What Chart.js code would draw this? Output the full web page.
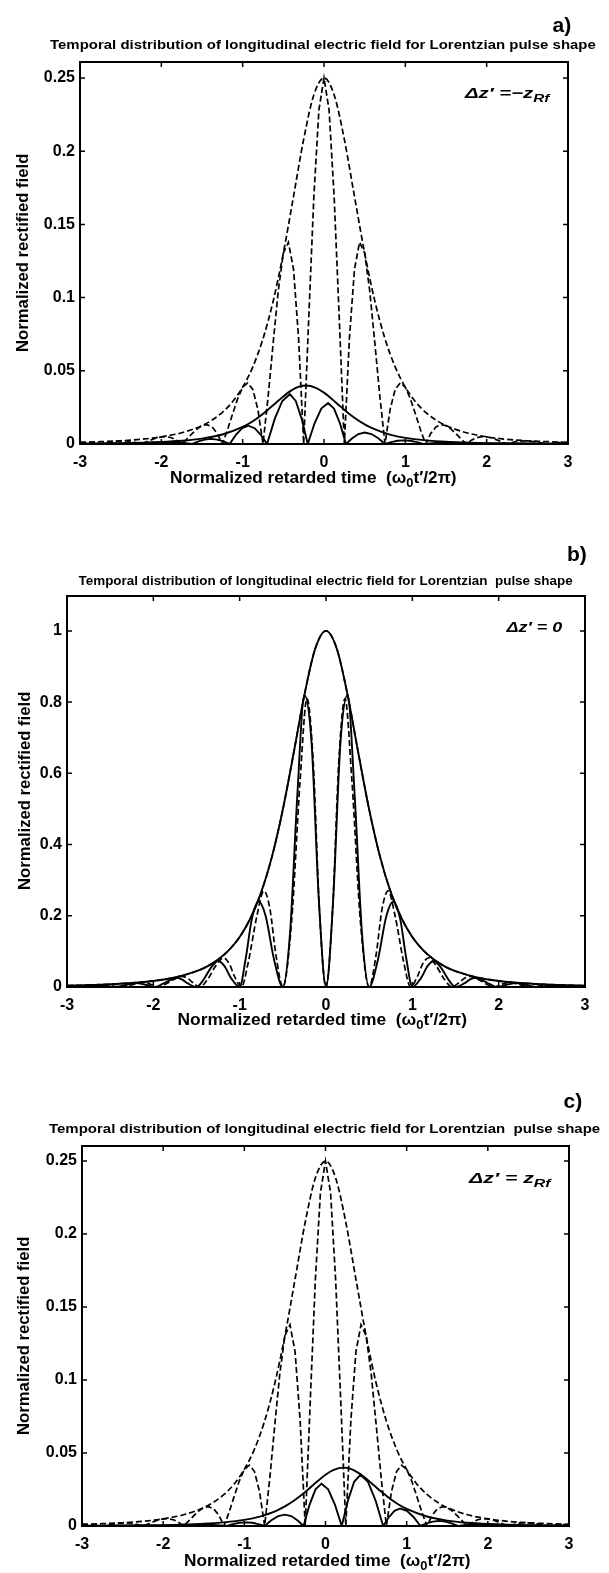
<!DOCTYPE html>
<html>
<head>
<meta charset="utf-8">
<script src="https://cdn.jsdelivr.net/npm/chart.js@4.4.0/dist/chart.umd.min.js"></script>
<style>
body { margin:0; width:609px; height:1573px; background:#fff; position:relative; overflow:hidden; font-family:"Liberation Sans", Arial, sans-serif; }
.panel { position:absolute; left:0; }
.txt { position:absolute; white-space:nowrap; font-weight:bold; color:#000; line-height:1.1; }
.txt sub { font-size:75%; vertical-align:-0.35em; line-height:0; }
</style>
</head>
<body>
<div class="panel" style="top:0px"><canvas id="chartA" width="609" height="500"></canvas></div>
<div class="panel" style="top:520px"><canvas id="chartB" width="609" height="510"></canvas></div>
<div class="panel" style="top:1070px"><canvas id="chartC" width="609" height="503"></canvas></div>
<script>
// ticks
const xTicks = [-3, -2, -1, 0, 1, 2, 3]
const xTickLabels = ['-3', '-2', '-1', '0', '1', '2', '3']
const yTicksAC = [0, 0.05, 0.1, 0.15, 0.2, 0.25]
const yTickLabelsAC = ['0', '0.05', '0.1', '0.15', '0.2', '0.25']
const yTicksB = [0, 0.2, 0.4, 0.6, 0.8, 1]
const yTickLabelsB = ['0', '0.2', '0.4', '0.6', '0.8', '1']

// dashed curves of a) and c) (same in both)
const dashT = [-3, -2.875, -2.75, -2.625, -2.5, -2.375, -2.25, -2.1875, -2.125, -2.0625,
  -2, -1.9375, -1.875, -1.8125, -1.75, -1.6875, -1.625, -1.5625, -1.5, -1.4375,
  -1.375, -1.3125, -1.25, -1.1875, -1.125, -1.0625, -1, -0.9375, -0.875, -0.8125,
  -0.75, -0.6875, -0.625, -0.5625, -0.5, -0.4375, -0.375, -0.3125, -0.25, -0.1875,
  -0.125, -0.0625, 0, 0.0625, 0.125, 0.1875, 0.25, 0.3125, 0.375, 0.4375,
  0.5, 0.5625, 0.625, 0.6875, 0.75, 0.8125, 0.875, 0.9375, 1, 1.0625,
  1.125, 1.1875, 1.25, 1.3125, 1.375, 1.4375, 1.5, 1.5625, 1.625, 1.6875,
  1.75, 1.8125, 1.875, 1.9375, 2, 2.0625, 2.125, 2.1875, 2.25, 2.375,
  2.5, 2.625, 2.75, 2.875, 3]
const dashOsc = [0.0011, 0.0009, 0, 0.0013, 0.0022, 0.0019, 0, 0.0014, 0.0028, 0.0041,
  0.0049, 0.005, 0.0043, 0.0026, 0, 0.0033, 0.0069, 0.0102, 0.0126, 0.0132,
  0.0116, 0.0072, 0, 0.0095, 0.0203, 0.0308, 0.0388, 0.0417, 0.0373, 0.0235,
  0, 0.0321, 0.069, 0.1045, 0.1304, 0.1378, 0.1195, 0.0723, 0, 0.0861,
  0.1686, 0.2282, 0.25, 0.2282, 0.1686, 0.0861, 0, 0.0723, 0.1195, 0.1378,
  0.1304, 0.1045, 0.069, 0.0321, 0, 0.0235, 0.0373, 0.0417, 0.0388, 0.0308,
  0.0203, 0.0095, 0, 0.0072, 0.0116, 0.0132, 0.0126, 0.0102, 0.0069, 0.0033,
  0, 0.0026, 0.0043, 0.005, 0.0049, 0.0041, 0.0028, 0.0014, 0, 0.0019,
  0.0022, 0.0013, 0, 0.0009, 0.0011]

const envT = [-3, -2.75, -2.5, -2.25, -2, -1.75, -1.5, -1.375, -1.25, -1.125, -1, -0.875, -0.75,
  -0.625, -0.5, -0.375, -0.25, -0.125, 0, 0.125, 0.25, 0.375, 0.5, 0.625, 0.75, 0.875,
  1, 1.125, 1.25, 1.375, 1.5, 1.75, 2, 2.25, 2.5, 2.75, 3]
const dashEnv = [0.0011, 0.0016, 0.0022, 0.0032, 0.0049, 0.0077, 0.0126, 0.0164, 0.0216, 0.0288,
  0.0388, 0.0527, 0.0719, 0.0976, 0.1304, 0.169, 0.2081, 0.2384, 0.25, 0.2384, 0.2081, 0.169,
  0.1304, 0.0976, 0.0719, 0.0527, 0.0388, 0.0288, 0.0216, 0.0164, 0.0126, 0.0077, 0.0049,
  0.0032, 0.0022, 0.0016, 0.0011]

// a) solid curves
const aEnvT = [-3, -2.5, -2, -1.75, -1.5, -1.25, -1, -0.9, -0.8, -0.7, -0.6, -0.5, -0.4, -0.3,
  -0.22, -0.1, 0, 0.1, 0.2, 0.3, 0.4, 0.5, 0.6, 0.7, 0.8, 1, 1.25, 1.5, 1.75, 2, 2.5, 3]
const aSolidEnv = [0.0003, 0.0006, 0.0014, 0.0022, 0.0037, 0.0065, 0.0117, 0.0147, 0.0185, 0.0229,
  0.0277, 0.0325, 0.0366, 0.0393, 0.04, 0.0384, 0.0351, 0.0306, 0.0257, 0.021, 0.0169, 0.0134,
  0.0106, 0.0084, 0.0066, 0.0042, 0.0025, 0.0015, 0.001, 0.0006, 0.0003, 0.0002]
const aOscT = [-3, -2.5, -2.12, -2.033, -1.947, -1.86, -1.78, -1.7, -1.62, -1.543, -1.467, -1.39,
  -1.313, -1.237, -1.16, -1.083, -1.007, -0.93, -0.853, -0.777, -0.7, -0.607, -0.513, -0.42,
  -0.347, -0.273, -0.2, -0.117, -0.033, 0.05, 0.123, 0.197, 0.27, 0.347, 0.423, 0.5, 0.583,
  0.667, 0.75, 0.827, 0.903, 0.98, 1.06, 1.14, 1.22, 1.3, 1.38, 1.46, 1.54, 1.62, 1.7, 2.2, 3]
const aSolidOsc = [0, 0.0003, 0, 0.0006, 0.001, 0.0012, 0.001, 0.0006, 0, 0.0018, 0.003, 0.0035,
  0.003, 0.0018, 0, 0.0063, 0.0108, 0.0125, 0.0108, 0.0063, 0, 0.017, 0.0294, 0.034,
  0.0294, 0.017, 0, 0.014, 0.0242, 0.028, 0.0242, 0.014, 0, 0.0039, 0.0068, 0.0078, 0.0068,
  0.0039, 0, 0.0013, 0.0022, 0.0025, 0.0022, 0.0013, 0, 0.00045, 0.0008, 0.0009, 0.0008, 0.00045, 0, 0.0003, 0]

// b) curves
const bSolidEnv = [0.0039, 0.0054, 0.0077, 0.0112, 0.017, 0.0268, 0.0443, 0.058, 0.077, 0.1034,
  0.1406, 0.193, 0.2664, 0.3668, 0.4983, 0.6563, 0.8202, 0.9499, 1, 0.9499, 0.8202, 0.6563,
  0.4983, 0.3668, 0.2664, 0.193, 0.1406, 0.1034, 0.077, 0.058, 0.0443, 0.0268, 0.017,
  0.0112, 0.0077, 0.0054, 0.0039]
const bDashEnv = [0.0039, 0.0054, 0.0077, 0.0112, 0.017, 0.0268, 0.0443, 0.058, 0.077, 0.1034,
  0.1406, 0.193, 0.2664, 0.3668, 0.4983, 0.6563, 0.8202, 0.9499, 1, 0.9499, 0.8202, 0.6563,
  0.4983, 0.3668, 0.2664, 0.193, 0.1406, 0.1034, 0.077, 0.058, 0.0443, 0.0268, 0.017,
  0.0112, 0.0077, 0.0054, 0.0039]
const bSolidT = [-3, -2.95, -2.8, -2.7, -2.6, -2.45, -2.3, -2.2, -2.1, -1.98, -1.9, -1.8, -1.72,
  -1.66, -1.6, -1.5, -1.42, -1.33, -1.25, -1.18, -1.1, -1, -0.93, -0.86, -0.78, -0.7, -0.6,
  -0.5, -0.417, -0.333, -0.25, -0.167, -0.083, 0, 0.083, 0.167, 0.25, 0.333, 0.417, 0.5,
  0.6, 0.7, 0.78, 0.86, 0.93, 1, 1.1, 1.18, 1.25, 1.33, 1.42, 1.5, 1.6, 1.66, 1.72, 1.8,
  1.9, 1.98, 2.1, 2.2, 2.3, 2.45, 2.6, 2.7, 2.8, 2.95, 3]
const bSolidOsc = [0.001, 0, 0.004, 0.005, 0.004, 0, 0.007, 0.011, 0.007, 0, 0.008, 0.02, 0.026,
  0.02, 0.01, 0, 0.02, 0.055, 0.073, 0.06, 0.025, 0, 0.08, 0.19, 0.24, 0.2, 0.075,
  0, 0.15, 0.534, 0.82, 0.685, 0.245, 0, 0.245, 0.685, 0.82, 0.534, 0.15, 0,
  0.075, 0.2, 0.24, 0.19, 0.08, 0, 0.025, 0.06, 0.073, 0.055, 0.02, 0, 0.01, 0.02, 0.026, 0.02,
  0.008, 0, 0.007, 0.011, 0.007, 0, 0.004, 0.005, 0.004, 0, 0.001]
const bDashT = [-3, -2.85, -2.7, -2.6, -2.5, -2.38, -2.22, -2.13, -2.04, -1.94, -1.85, -1.75,
  -1.67, -1.6, -1.54, -1.46, -1.37, -1.27, -1.19, -1.12, -1.06, -0.98, -0.9, -0.8, -0.72,
  -0.65, -0.58, -0.5, -0.4, -0.3, -0.22, -0.15, -0.075, 0, 0.075, 0.15, 0.22, 0.3, 0.4,
  0.5, 0.58, 0.65, 0.72, 0.8, 0.9, 0.98, 1.06, 1.12, 1.19, 1.27, 1.37, 1.46, 1.54, 1.6,
  1.67, 1.75, 1.85, 1.94, 2.04, 2.13, 2.22, 2.38, 2.5, 2.6, 2.7, 2.85, 3]
const bDashOsc = [0.002, 0, 0.004, 0.006, 0.004, 0, 0.008, 0.013, 0.008, 0, 0.009, 0.023,
  0.03, 0.024, 0.012, 0, 0.022, 0.062, 0.082, 0.065, 0.03, 0, 0.07, 0.2, 0.27,
  0.22, 0.09, 0, 0.18, 0.58, 0.81, 0.64, 0.21, 0, 0.21, 0.64, 0.81, 0.58, 0.18,
  0, 0.09, 0.22, 0.27, 0.2, 0.07, 0, 0.03, 0.065, 0.082, 0.062, 0.022, 0, 0.012, 0.024,
  0.03, 0.023, 0.009, 0, 0.008, 0.013, 0.008, 0, 0.004, 0.006, 0.004, 0, 0.002]

// c) solid curves
const cEnvT = [-3, -2.5, -2, -1.75, -1.5, -1.25, -1, -0.8, -0.7, -0.6, -0.5, -0.4, -0.3, -0.2,
  -0.1, 0, 0.1, 0.22, 0.3, 0.4, 0.5, 0.6, 0.7, 0.8, 0.9, 1, 1.25, 1.5, 1.75, 2, 2.5, 3]
const cSolidEnv = [0.0002, 0.0003, 0.0006, 0.001, 0.0015, 0.0025, 0.0042, 0.0066, 0.0084, 0.0106,
  0.0134, 0.0169, 0.021, 0.0257, 0.0306, 0.0351, 0.0384, 0.04, 0.0393, 0.0366, 0.0325, 0.0277,
  0.0229, 0.0185, 0.0147, 0.0117, 0.0065, 0.0037, 0.0022, 0.0014, 0.0006, 0.0003]
const cOscT = [-3, -2.2, -1.7, -1.62, -1.54, -1.46, -1.38, -1.3, -1.22, -1.14, -1.06, -0.98,
  -0.903, -0.827, -0.75, -0.667, -0.583, -0.5, -0.423, -0.347, -0.27, -0.197, -0.123, -0.05,
  0.033, 0.117, 0.2, 0.277, 0.353, 0.43, 0.523, 0.617, 0.71, 0.78, 0.85, 0.92, 1.003, 1.087,
  1.17, 1.247, 1.323, 1.4, 1.477, 1.553, 1.63, 1.71, 1.79, 1.87, 1.953, 2.037, 2.12, 2.5, 3]
const cSolidOsc = [0, 0.0003, 0, 0.00045, 0.0008, 0.0009, 0.0008, 0.00045, 0, 0.0013, 0.0022, 0.0025,
  0.0022, 0.0013, 0, 0.0039, 0.0068, 0.0078, 0.0068, 0.0039, 0, 0.0145, 0.0251, 0.029,
  0.0251, 0.0145, 0, 0.0175, 0.0303, 0.035, 0.0303, 0.0175, 0, 0.006, 0.0104, 0.012, 0.0104,
  0.006, 0, 0.0018, 0.003, 0.0035, 0.003, 0.0018, 0, 0.0006, 0.001, 0.0012, 0.001, 0.0006, 0, 0.0003, 0]

const FONT = '"Liberation Sans", Arial, sans-serif'

function pts(t, v) {
  return t.map((x, i) => ({ x: x, y: v[i] }))
}

function line(t, v, dashed, smooth) {
  return {
    data: pts(t, v),
    showLine: true,
    pointRadius: 0,
    borderColor: '#000',
    borderWidth: dashed ? 1.7 : 1.9,
    borderDash: dashed ? [6, 3] : [],
    tension: 0,
    cubicInterpolationMode: smooth ? 'monotone' : 'default'
  }
}

// frame with ticks pointing inwards on all four sides
const boxPlugin = {
  id: 'box',
  afterDatasetsDraw(chart) {
    const ctx = chart.ctx
    const a = chart.chartArea
    const x = chart.scales.x
    const y = chart.scales.y
    ctx.save()
    ctx.strokeStyle = '#000'
    ctx.setLineDash([])
    ctx.lineWidth = 2
    ctx.strokeRect(a.left, a.top, a.right - a.left, a.bottom - a.top)
    ctx.lineWidth = 1.5
    ctx.beginPath()
    x.ticks.forEach(t => {
      const px = x.getPixelForValue(t.value)
      ctx.moveTo(px, a.bottom); ctx.lineTo(px, a.bottom - 5)
      ctx.moveTo(px, a.top); ctx.lineTo(px, a.top + 5)
    })
    y.ticks.forEach(t => {
      const py = y.getPixelForValue(t.value)
      ctx.moveTo(a.left, py); ctx.lineTo(a.left + 5, py)
      ctx.moveTo(a.right, py); ctx.lineTo(a.right - 5, py)
    })
    ctx.stroke()
    ctx.restore()
  }
}

function makeChart(id, p, datasets, yTicks, yLabels) {
  return new Chart(document.getElementById(id), {
    type: 'scatter',
    data: { datasets: datasets },
    options: {
      responsive: false,
      animation: false,
      layout: { padding: { left: 0, right: 609 - p.R, top: p.T, bottom: 0 } },
      plugins: { legend: { display: false }, tooltip: { enabled: false } },
      scales: {
        x: {
          type: 'linear', min: -3, max: 3,
          afterBuildTicks: s => { s.ticks = xTicks.map(v => ({ value: v })) },
          afterFit: s => { s.height = p.H - p.B },
          grid: { display: false, drawTicks: false },
          border: { display: false },
          ticks: {
            padding: 9, color: '#000', maxRotation: 0, autoSkip: false,
            font: { family: FONT, size: 16, weight: 'bold' },
            callback: (v, i) => xTickLabels[i]
          }
        },
        y: {
          type: 'linear', min: 0, max: p.yMax,
          afterBuildTicks: s => { s.ticks = yTicks.map(v => ({ value: v })) },
          afterFit: s => { s.width = p.L },
          grid: { display: false, drawTicks: false },
          border: { display: false },
          ticks: {
            padding: 5, color: '#000', autoSkip: false,
            font: { family: FONT, size: 16, weight: 'bold' },
            callback: (v, i) => yLabels[i]
          }
        }
      }
    },
    plugins: [boxPlugin]
  })
}

makeChart('chartA', { H: 500, L: 80, R: 568, T: 62, B: 444, yMax: 0.2609 }, [
  line(envT, dashEnv, true, true),
  line(dashT, dashOsc, true, false),
  line(aEnvT, aSolidEnv, false, true),
  line(aOscT, aSolidOsc, false, false)
], yTicksAC, yTickLabelsAC)

makeChart('chartB', { H: 510, L: 67, R: 585, T: 76, B: 467, yMax: 1.098 }, [
  line(envT, bDashEnv, true, true),
  line(bDashT, bDashOsc, true, true),
  line(envT, bSolidEnv, false, true),
  line(bSolidT, bSolidOsc, false, true)
], yTicksB, yTickLabelsB)

makeChart('chartC', { H: 503, L: 82, R: 569, T: 76, B: 456, yMax: 0.2603 }, [
  line(envT, dashEnv, true, true),
  line(dashT, dashOsc, true, false),
  line(cEnvT, cSolidEnv, false, true),
  line(cOscT, cSolidOsc, false, false)
], yTicksAC, yTickLabelsAC)

// text
function put(html, cx, cy, size, opt) {
  opt = opt || {}
  const el = document.createElement('div')
  el.className = 'txt'
  el.innerHTML = html
  el.style.fontSize = size + 'px'
  if (opt.italic) el.style.fontStyle = 'italic'
  document.body.appendChild(el)
  const w = el.offsetWidth
  const h = el.offsetHeight
  const k = opt.width ? opt.width / w : 1
  el.style.left = (cx - w / 2) + 'px'
  el.style.top = (cy - h / 2) + 'px'
  el.style.transform = (opt.rotate ? 'rotate(-90deg) ' : '') + 'scaleX(' + k + ')'
}

const titleA = 'Temporal distribution of longitudinal electric field for Lorentzian pulse shape'
const titleBC = 'Temporal distribution of longitudinal electric field for Lorentzian&nbsp; pulse shape'
const yTitle = 'Normalized rectified field'
const xTitle = 'Normalized retarded time&nbsp; (ω<sub>0</sub>t′/2π)'

put('a)', 562, 24, 21)
put(titleA, 323, 45, 12, { width: 546 })
put('Δz′ =−z<sub>Rf</sub>', 507, 93, 15, { italic: true, width: 84 })
put(yTitle, 23, 253, 16, { rotate: true, width: 198 })
put(xTitle, 313, 478, 16, { width: 287 })

put('b)', 577, 553, 21)
put(titleBC, 325, 581, 12, { width: 494 })
put('Δz′ = 0', 534, 627, 15, { italic: true, width: 56 })
put(yTitle, 25, 791, 16, { rotate: true, width: 198 })
put(xTitle, 322, 1020, 16, { width: 290 })

put('c)', 573, 1100, 21)
put(titleBC, 324, 1129, 12, { width: 551 })
put('Δz′ = z<sub>Rf</sub>', 510, 1178, 15, { italic: true, width: 82 })
put(yTitle, 24, 1336, 16, { rotate: true, width: 198 })
put(xTitle, 327, 1561, 16, { width: 287 })
</script>
</body>
</html>
